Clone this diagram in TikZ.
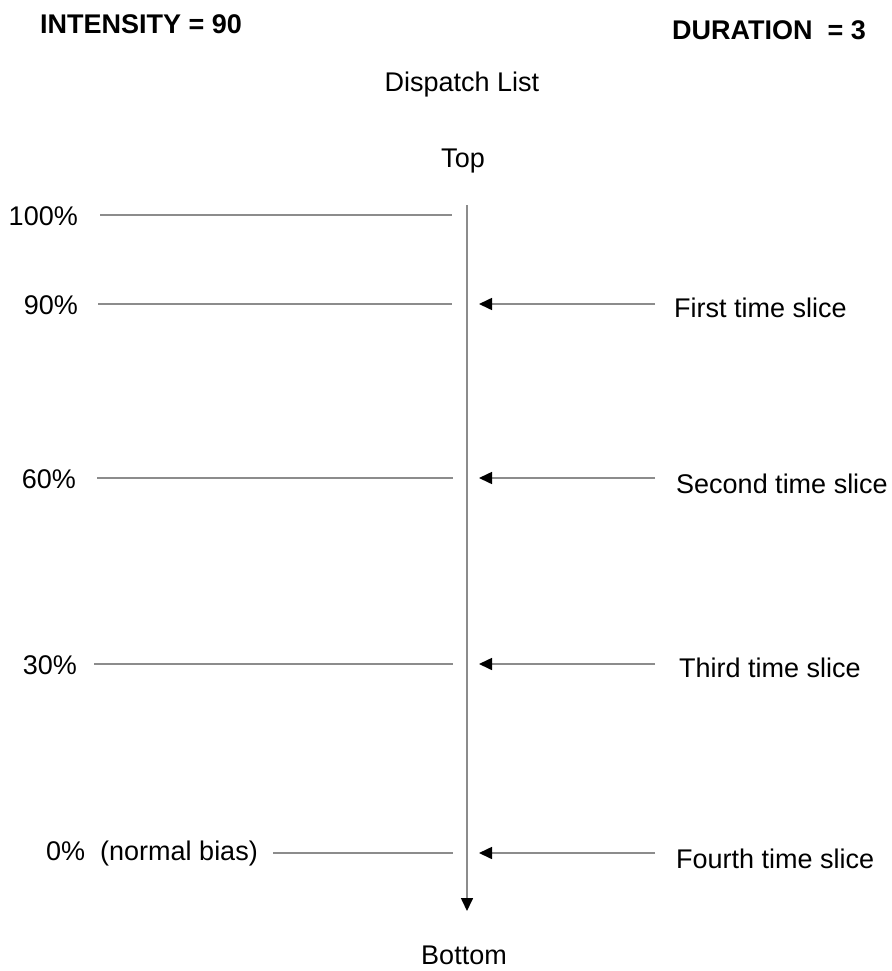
\documentclass[tikz,border=0pt]{standalone}
\usepackage{fontspec}
\setmainfont{Liberation Sans}
\usetikzlibrary{arrows.meta}
\begin{document}
\begin{tikzpicture}[x=1pt,y=-1pt,
  lbl/.style={inner sep=0pt,font=\fontsize{27}{30}\selectfont},
  hdr/.style={inner sep=0pt,font=\fontsize{27}{30}\selectfont\bfseries},
  gline/.style={draw=black!45,line width=1.6pt},
  garrow/.style={gline,-{Triangle[length=13pt,width=12pt,color=black]}}]
\useasboundingbox (0,0) rectangle (891,971);
\node[hdr,anchor=west] (int) at (40,24) {INTENSITY = 90};
\node[hdr,anchor=east] (dur) at (866,30) {DURATION\ \ = 3};
\node[lbl] (disp) at (462,85) {Dispatch List};
\node[lbl] (top) at (463,161) {Top};
\node[lbl] (bot) at (464,955) {Bottom};
% axis
\coordinate (vtop) at (467,205);
\coordinate (vbot) at (467,911);
\draw[garrow] (vtop) -- (vbot);
% left labels and lines
\node[lbl,anchor=east] (p100) at (78,216) {100\%};
\node[lbl,anchor=east] (p90) at (78,305) {90\%};
\node[lbl,anchor=east] (p60) at (76,479) {60\%};
\node[lbl,anchor=east] (p30) at (77,665) {30\%};
\node[lbl,anchor=east] (p0) at (258,854) {0\%\ \ (normal bias)};
\coordinate (l100) at (452,215);
\coordinate (l90) at (452,304);
\coordinate (l60) at (453,478);
\coordinate (l30) at (453,664);
\coordinate (l0) at (453,853);
\draw[gline] (p100.east) ++(22,-1) -- (l100);
\draw[gline] (p90.east) ++(20,-1) -- (l90);
\draw[gline] (p60.east) ++(21,-1) -- (l60);
\draw[gline] (p30.east) ++(17,-1) -- (l30);
\draw[gline] (p0.east) ++(15,-1) -- (l0);
% right labels and arrows
\node[lbl,anchor=west] (s1) at (674,308) {First time slice};
\node[lbl,anchor=west] (s2) at (676,484) {Second time slice};
\node[lbl,anchor=west] (s3) at (679,668) {Third time slice};
\node[lbl,anchor=west] (s4) at (676,859) {Fourth time slice};
\coordinate (t1) at (479,304);
\coordinate (t2) at (479,478);
\coordinate (t3) at (479,664);
\coordinate (t4) at (479,853);
\draw[garrow] (655,304) -- (t1);
\draw[garrow] (655,478) -- (t2);
\draw[garrow] (655,664) -- (t3);
\draw[garrow] (655,853) -- (t4);
\end{tikzpicture}
\end{document}
